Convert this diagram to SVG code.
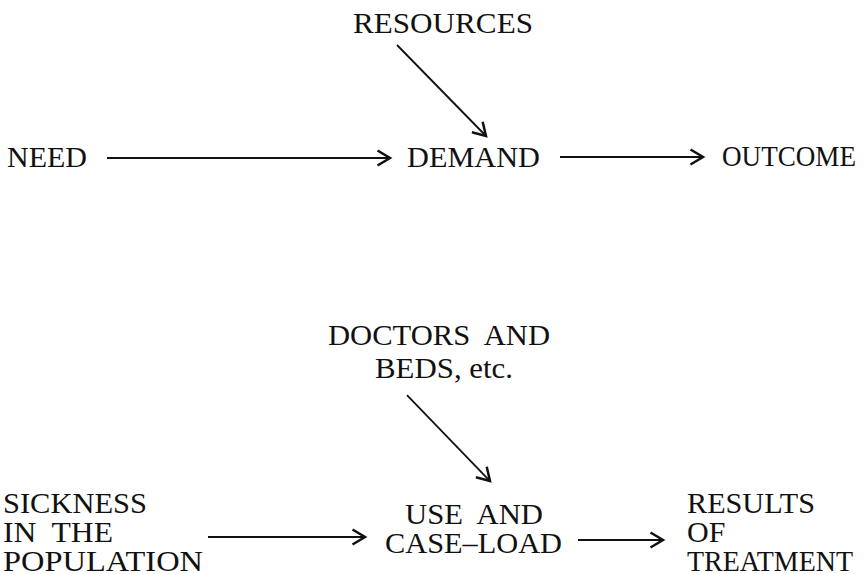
<svg xmlns="http://www.w3.org/2000/svg" width="866" height="574" viewBox="0 0 866 574">
<defs>
<style>
text{font-family:'Liberation Serif','Times New Roman',serif;font-size:30px;fill:#111;}
.e{stroke:#111;stroke-width:1.8;fill:none;}
</style>
<marker id="ah" markerUnits="userSpaceOnUse" markerWidth="20" markerHeight="20" viewBox="-12 -8 14 16" refX="0" refY="0" orient="auto">
<path d="M-10,-6 L0,0 L-10,6" fill="none" stroke="#111" stroke-width="2"/>
</marker>
</defs>
<rect width="866" height="574" fill="#fff"/>
<g id="resources"><text x="353" y="33" textLength="180" lengthAdjust="spacingAndGlyphs">RESOURCES</text></g>
<g id="need"><text x="7" y="167" textLength="80" lengthAdjust="spacingAndGlyphs">NEED</text></g>
<g id="demand"><text x="407" y="167" textLength="133" lengthAdjust="spacingAndGlyphs">DEMAND</text></g>
<g id="outcome"><text x="722" y="166" textLength="134" lengthAdjust="spacingAndGlyphs">OUTCOME</text></g>
<g id="doctors"><text x="328" y="345" textLength="222" lengthAdjust="spacingAndGlyphs" xml:space="preserve">DOCTORS  AND</text><text x="375" y="378" textLength="138" lengthAdjust="spacingAndGlyphs">BEDS, etc.</text></g>
<g id="sickness"><text x="3" y="513" textLength="144" lengthAdjust="spacingAndGlyphs">SICKNESS</text><text x="3" y="542" textLength="110" lengthAdjust="spacingAndGlyphs" xml:space="preserve">IN  THE</text><text x="3" y="571" textLength="200" lengthAdjust="spacingAndGlyphs">POPULATION</text></g>
<g id="use"><text x="405" y="524" textLength="138" lengthAdjust="spacingAndGlyphs" xml:space="preserve">USE  AND</text><text x="385" y="553" textLength="177" lengthAdjust="spacingAndGlyphs">CASE–LOAD</text></g>
<g id="results"><text x="687" y="513" textLength="128" lengthAdjust="spacingAndGlyphs">RESULTS</text><text x="687" y="542">OF</text><text x="687" y="571" textLength="166" lengthAdjust="spacingAndGlyphs">TREATMENT</text></g>
<g id="connectors">
<line class="e" x1="107" y1="158" x2="390" y2="158" marker-end="url(#ah)"/>
<line class="e" x1="560" y1="157" x2="703" y2="157" marker-end="url(#ah)"/>
<line class="e" x1="397" y1="45" x2="486" y2="136" marker-end="url(#ah)"/>
<line class="e" x1="208" y1="537" x2="365" y2="537" marker-end="url(#ah)"/>
<line class="e" x1="578" y1="540" x2="663" y2="540" marker-end="url(#ah)"/>
<line class="e" x1="407" y1="395" x2="490" y2="481" marker-end="url(#ah)"/>
</g>
</svg>
